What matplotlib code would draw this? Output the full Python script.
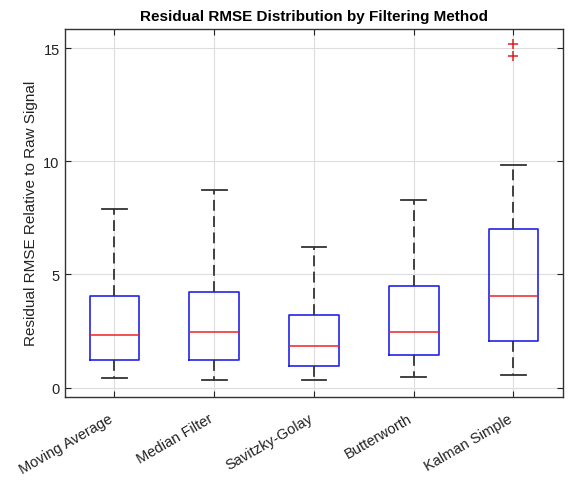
import matplotlib
matplotlib.use('Agg')
import matplotlib.pyplot as plt
from matplotlib.transforms import ScaledTranslation

plt.rcParams['font.family'] = ['Liberation Sans', 'DejaVu Sans']

# valores
metodos = ['Moving Average', 'Median Filter', 'Savitzky-Golay', 'Butterworth', 'Kalman Simple']
whisker_baixo = [0.41, 0.34, 0.31, 0.47, 0.56]
q1 = [1.23, 1.21, 0.93, 1.43, 2.04]
mediana = [2.33, 2.44, 1.83, 2.44, 4.03]
q3 = [4.06, 4.22, 3.19, 4.48, 7.00]
whisker_alto = [7.87, 8.71, 6.22, 8.29, 9.84]
outliers = [[], [], [], [], [15.17, 14.64]]

stats = []
for i, nome in enumerate(metodos):
    stats.append({
        'label': nome,
        'whislo': whisker_baixo[i],
        'q1': q1[i],
        'med': mediana[i],
        'q3': q3[i],
        'whishi': whisker_alto[i],
        'fliers': outliers[i],
    })

fig = plt.figure(figsize=(5.82, 4.81), dpi=100)
ax = fig.add_axes([0.111, 0.173, 0.857, 0.765])

ax.bxp(stats, positions=range(1, 6), widths=0.5,
       boxprops=dict(color='#2222ee', linewidth=1.2),
       medianprops=dict(color='#ee2222', linewidth=1.1),
       whiskerprops=dict(color='#333333', linewidth=1.3, linestyle=(0, (6, 3))),
       capprops=dict(color='#333333', linewidth=1.3),
       flierprops=dict(marker='+', markeredgecolor='#dd2222', markersize=7.5, markeredgewidth=1.1))

ax.set_xlim(0.5, 5.5)
ax.set_ylim(-0.41, 15.85)
ax.set_yticks([0, 5, 10, 15])
ax.set_xticks(range(1, 6))
ax.set_xticklabels(metodos, rotation=30, ha='right', rotation_mode='anchor')
ax.tick_params(direction='in', length=4, labelsize=10.5, colors='#222222',
               top=True, right=True)
ax.tick_params(axis='x', pad=9)
desloc = ScaledTranslation(-6 / 100, -2 / 100, fig.dpi_scale_trans)
for rot in ax.get_xticklabels():
    rot.set_transform(rot.get_transform() + desloc)
ax.grid(True, color='#dddddd', linewidth=0.8)
ax.set_axisbelow(True)
for s in ax.spines.values():
    s.set_color('#333333')
    s.set_linewidth(1.0)

ax.set_ylabel('Residual RMSE Relative to Raw Signal', fontsize=11, color='#222222')
ax.set_title('Residual RMSE Distribution by Filtering Method', fontsize=11,
             fontweight='bold', pad=6)

plt.savefig('out.png', dpi=100)
